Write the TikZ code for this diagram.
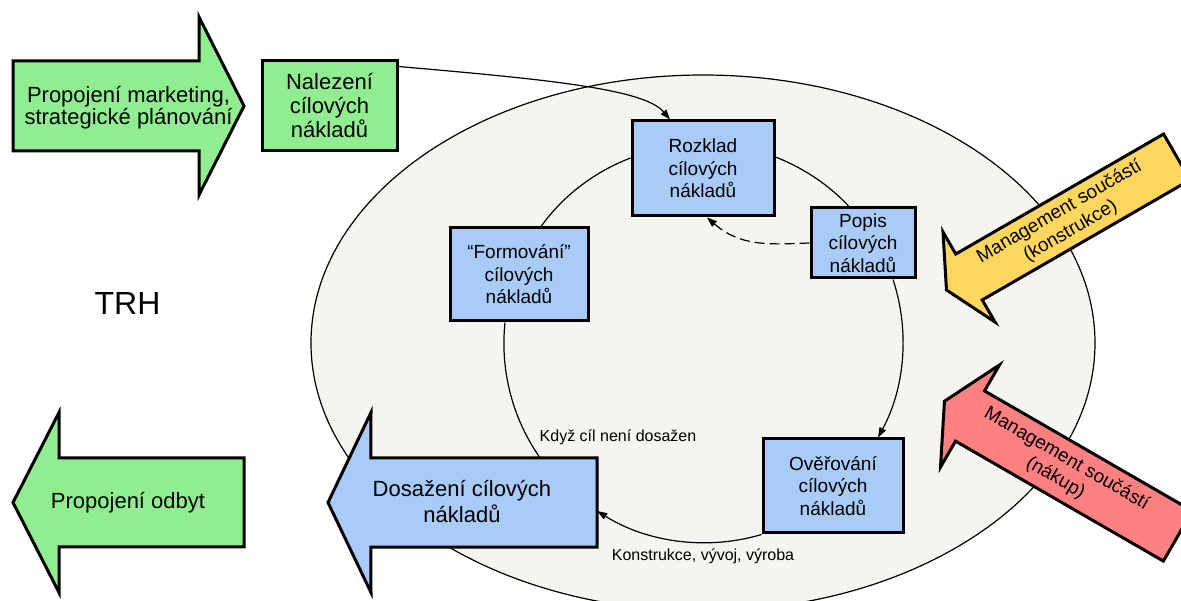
\documentclass[tikz,border=0pt]{standalone}
\usepackage{fontspec}
\setmainfont{Liberation Sans}
\usetikzlibrary{arrows.meta,shapes.geometric}

\definecolor{greenfill}{RGB}{144,238,144}
\definecolor{bluefill}{RGB}{169,203,248}
\definecolor{yellowfill}{RGB}{255,214,94}
\definecolor{redfill}{RGB}{255,128,128}
\definecolor{fieldfill}{RGB}{246,244,238}

\begin{document}
\begin{tikzpicture}[x=1pt,y=1pt,
  stepbox/.style={draw, line width=3pt, fill=bluefill, align=center, inner sep=0pt,
                  font=\fontsize{19}{22.5}\selectfont},
  bigtext/.style={align=center, inner sep=0pt, font=\fontsize{22}{26}\selectfont},
  arrowshape/.style={draw=black, line width=3pt, line join=miter},
  conn/.style={line width=1.2pt},
  arrowtip/.style={-{Triangle[length=10pt,width=7pt]}},
  note/.style={inner sep=0pt, font=\fontsize{16}{19}\selectfont}
]
\useasboundingbox (0,0) rectangle (1181,600);
\fill[white] (0,0) rectangle (1181,600);

% the market field
\node[ellipse, draw, line width=1.2pt, fill=fieldfill, minimum width=784pt,
      minimum height=536pt, inner sep=0pt] (field) at (703,257) {};

% left side: inputs and outputs
\draw[arrowshape, fill=greenfill] (13,539) -- (199,539) -- (199,583) -- (244,494)
  -- (199,405) -- (199,449) -- (13,449) -- cycle;
\node[bigtext, font=\fontsize{22}{22}\selectfont] (marketing) at (128.5,492.5)
  {Propojení marketing,\\strategické plánování};

\draw[arrowshape, fill=greenfill] (244,142) -- (59,142) -- (59,187.5) -- (13,97.5)
  -- (59,7.5) -- (59,53) -- (244,53) -- cycle;
\node[bigtext] (odbyt) at (128,97.5) {Propojení odbyt};

\node[font=\fontsize{32}{36}\selectfont, inner sep=0pt] (trh) at (127.5,297) {TRH};

\node[draw, line width=3pt, fill=greenfill, minimum width=135pt, minimum height=90pt,
      inner sep=0pt, align=center, font=\fontsize{22}{24}\selectfont]
  (nalezeni) at (329.5,494) {Nalezení\\cílových\\nákladů};

% goal reached: output arrow
\node[minimum width=226pt, minimum height=89pt, inner sep=0pt] (dosshaft) at (484,97.5) {};
\draw[arrowshape, fill=bluefill] (dosshaft.north east) -- (dosshaft.north west)
  -- (371,187.5) -- (328,97.5) -- (371,7.5) -- (dosshaft.south west)
  -- (dosshaft.south east) -- cycle;
\node[bigtext] (dosazeni) at (462,98) {Dosažení cílových\\nákladů};

% component management arrows
\begin{scope}[shift={(969,323)}, rotate=30]
  \draw[arrowshape, fill=yellowfill] (-26,0) -- (0,52) -- (0,26.5) -- (240,26.5)
    -- (240,-26.5) -- (0,-26.5) -- (0,-52) -- cycle;
\end{scope}
\node[rotate=30, align=center, inner sep=0pt, font=\fontsize{19}{22}\selectfont]
  (konstrukce) at (1065,378.5) {Management součástí\\(konstrukce)};

\begin{scope}[shift={(970,184)}, rotate=-30]
  \draw[arrowshape, fill=redfill] (-29.5,0) -- (0,59) -- (0,29) -- (240,29)
    -- (240,-29) -- (0,-29) -- (0,-59) -- cycle;
\end{scope}
\node[rotate=-30, align=center, inner sep=0pt, font=\fontsize{19}{22}\selectfont]
  (nakup) at (1061,131.5) {Management součástí\\(nákup)};

% the target costing cycle
\node[stepbox, minimum width=142pt, minimum height=95pt] (rozklad) at (703,431.5)
  {Rozklad\\cílových\\nákladů};
\node[stepbox, minimum width=104pt, minimum height=70pt] (popis) at (863,357)
  {Popis\\cílových\\nákladů};
\node[stepbox, minimum width=138pt, minimum height=93pt] (formovani) at (519,325.5)
  {“Formování”\\cílových\\nákladů};
\node[stepbox, minimum width=140pt, minimum height=94pt] (overovani) at (833,114)
  {Ověřování\\cílových\\nákladů};

\draw[conn, arrowtip] ([yshift=-7]nalezeni.north east)
  .. controls +(-5:150) and +(130:40) .. ([xshift=-33]rozklad.north);

\draw[conn] ([yshift=11.5]rozklad.east)
  to[out=-21.4, in=132.8, looseness=0.86] ([xshift=-14]popis.north);
\draw[conn, arrowtip] ([xshift=30]popis.south)
  to[out=-71.7, in=61.5, looseness=0.89] ([xshift=45]overovani.north);
\draw[conn, arrowtip] (overovani.south west)
  to[out=-163.3, in=-32.3, looseness=0.89] ([yshift=-8.5]dosshaft.east);
\draw[conn] ([xshift=56]dosshaft.north)
  to[out=125, in=-96, looseness=0.88] ([xshift=-14]formovani.south);
\draw[conn] ([xshift=22]formovani.north)
  to[out=54.4, in=-159, looseness=0.87] ([yshift=10.5]rozklad.west);

\draw[conn, arrowtip, dash pattern=on 10pt off 5pt] (popis.west)
  .. controls +(182:40) and +(-41:45) .. ([xshift=4]rozklad.south);

\node[note] (notreached) at (618,163) {Když cíl není dosažen};
\node[note] (production) at (703,44) {Konstrukce, vývoj, výroba};
\end{tikzpicture}
\end{document}
